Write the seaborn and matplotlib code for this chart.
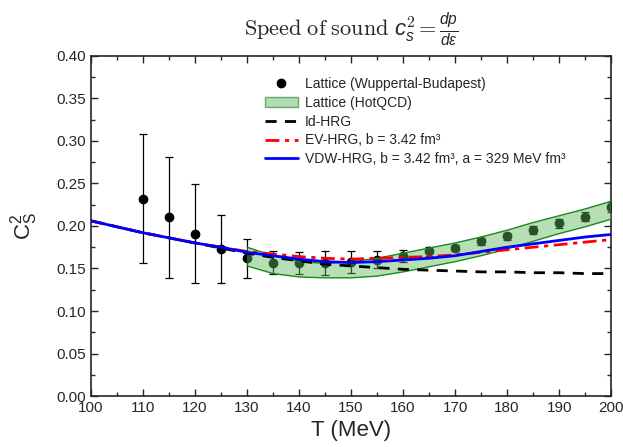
import numpy as np
import pandas as pd
import matplotlib
matplotlib.use("Agg")
import matplotlib.pyplot as plt
import seaborn as sns
from matplotlib.lines import Line2D
from matplotlib.patches import Patch
from matplotlib.ticker import MultipleLocator

sns.set_style("ticks")
plt.rcParams['font.family'] = ['Liberation Sans', 'DejaVu Sans']
plt.rcParams['mathtext.fontset'] = 'custom'
plt.rcParams['mathtext.rm'] = 'cmr10'
plt.rcParams['mathtext.it'] = 'Liberation Sans:italic'
plt.rcParams['mathtext.sf'] = 'Liberation Sans'
plt.rcParams['axes.unicode_minus'] = False

# Lattice (Wuppertal-Budapest)
wb_T = [110, 115, 120, 125, 130, 135, 140, 145, 150, 155, 160, 165, 170, 175, 180, 185, 190, 195, 200]
wb_cs2 = [0.232, 0.210, 0.191, 0.173, 0.162, 0.157, 0.156, 0.156, 0.158, 0.160, 0.165, 0.170, 0.174,
          0.182, 0.188, 0.195, 0.203, 0.211, 0.222]
wb_err = [0.076, 0.071, 0.058, 0.040, 0.023, 0.014, 0.013, 0.014, 0.013, 0.010, 0.007, 0.005, 0.004,
          0.004, 0.004, 0.005, 0.005, 0.005, 0.006]

# Lattice (HotQCD) band
hq_T = [130, 135, 140, 145, 150, 155, 160, 165, 170, 175, 180, 185, 190, 195, 200]
hq_up = [0.175, 0.165, 0.158, 0.156, 0.158, 0.162, 0.168, 0.174, 0.180, 0.187, 0.195, 0.204, 0.212, 0.220, 0.229]
hq_lo = [0.153, 0.144, 0.140, 0.139, 0.139, 0.141, 0.146, 0.152, 0.158, 0.165, 0.173, 0.182, 0.191, 0.199, 0.208]

# HRG models
T = [100, 105, 110, 115, 120, 125, 130, 135, 140, 145, 150, 155, 160, 165, 170, 175, 180, 185, 190, 195, 200]
id_hrg = [0.206, 0.199, 0.192, 0.186, 0.180, 0.174, 0.168, 0.163, 0.159, 0.155, 0.153, 0.151, 0.149, 0.148,
          0.147, 0.146, 0.146, 0.145, 0.145, 0.144, 0.144]
ev_hrg = [0.206, 0.199, 0.192, 0.186, 0.180, 0.175, 0.170, 0.167, 0.164, 0.162, 0.161, 0.162, 0.163, 0.164,
          0.166, 0.169, 0.172, 0.175, 0.178, 0.181, 0.184]
vdw_hrg = [0.206, 0.199, 0.192, 0.186, 0.180, 0.175, 0.169, 0.165, 0.161, 0.158, 0.157, 0.158, 0.160, 0.162,
           0.165, 0.170, 0.175, 0.179, 0.183, 0.187, 0.190]

df = pd.DataFrame({'T': T, 'Id-HRG': id_hrg, 'EV-HRG': ev_hrg, 'VDW-HRG': vdw_hrg})

fig, ax = plt.subplots(figsize=(6.23, 4.47), dpi=100)
fig.subplots_adjust(left=0.146, right=0.981, bottom=0.114, top=0.875)

ax.errorbar(wb_T, wb_cs2, yerr=wb_err, fmt='o', color='black', ms=6, capsize=3,
            elinewidth=0.9, capthick=0.9, zorder=2)
ax.fill_between(hq_T, hq_lo, hq_up, facecolor='#5fb85f', alpha=0.45, edgecolor='none', zorder=3)
ax.plot(hq_T, hq_up, color='#1a8a1a', lw=1.0, zorder=3)
ax.plot(hq_T, hq_lo, color='#1a8a1a', lw=1.0, zorder=3)

sns.lineplot(data=df, x='T', y='Id-HRG', ax=ax, color='black', lw=2,
             linestyle=(0, (4, 3)), zorder=4)
sns.lineplot(data=df, x='T', y='EV-HRG', ax=ax, color='red', lw=2,
             linestyle=(0, (5, 2, 1.5, 2)), zorder=5)
sns.lineplot(data=df, x='T', y='VDW-HRG', ax=ax, color='blue', lw=2, zorder=6)

ax.set_xlim(100, 200)
ax.set_ylim(0, 0.40)
ax.xaxis.set_major_locator(MultipleLocator(10))
ax.xaxis.set_minor_locator(MultipleLocator(5))
ax.yaxis.set_major_locator(MultipleLocator(0.05))
ax.yaxis.set_minor_locator(MultipleLocator(0.025))
ax.yaxis.set_major_formatter(matplotlib.ticker.FormatStrFormatter('%.2f'))
ax.tick_params(which='both', direction='in', top=True, right=True, labelsize=11)
ax.tick_params(which='major', length=5, width=1)
ax.tick_params(which='minor', length=3, width=1)
for s in ax.spines.values():
    s.set_linewidth(1.2)

ax.set_xlabel('T (MeV)', fontsize=16, labelpad=4)
ax.set_ylabel(r'$\mathsf{C}_\mathsf{S}^\mathsf{2}$', fontsize=16, labelpad=12)
ax.set_title(r'$\mathrm{Speed\ of\ sound}\ c_s^2 = \frac{dp}{d\varepsilon}$', fontsize=16, pad=14)

handles = [
    Line2D([], [], marker='o', color='black', ls='none', ms=6),
    Patch(facecolor='#b2dcb2', edgecolor='#6aa86a'),
    Line2D([], [], color='black', lw=2, ls=(0, (4, 3))),
    Line2D([], [], color='red', lw=2, ls=(0, (5, 2, 1.5, 2))),
    Line2D([], [], color='blue', lw=2),
]
labels = ['Lattice (Wuppertal-Budapest)', 'Lattice (HotQCD)', 'Id-HRG',
          'EV-HRG, b = 3.42 fm³', 'VDW-HRG, b = 3.42 fm³, a = 329 MeV fm³']
ax.legend(handles, labels, loc='upper left', bbox_to_anchor=(0.31, 0.975), frameon=False,
          fontsize=10, handlelength=2.4, labelspacing=0.35, handletextpad=0.5)

fig.savefig('out.png', dpi=100)
